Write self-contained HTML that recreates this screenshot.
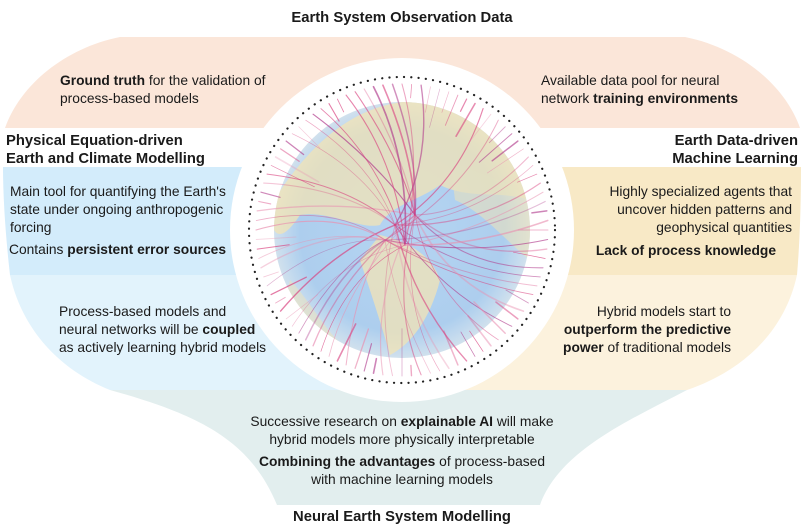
<!DOCTYPE html>
<html><head><meta charset="utf-8"><style>
html,body{margin:0;padding:0;background:#fff;}
svg{display:block;font-family:"Liberation Sans",Arial,sans-serif;}
text{font-size:13.8px;fill:#1a1a1a;}
.b{font-weight:bold;}
.h{font-weight:bold;font-size:14.8px;}
</style></head><body>
<svg width="804" height="531" viewBox="0 0 804 531" xmlns="http://www.w3.org/2000/svg">
<defs>
<radialGradient id="sea" cx="50%" cy="50%" r="50%">
<stop offset="0" stop-color="#a9cdf0"/><stop offset="0.8" stop-color="#9fc6ec"/><stop offset="1" stop-color="#c9dcea"/>
</radialGradient>
<clipPath id="gc"><circle cx="402" cy="230" r="128"/></clipPath>
</defs>
<path d="M120,37 L685,37 C740,48 785,85 800,128 L5,128 C20,85 65,48 120,37 Z" fill="#fbe6d9"/>
<path d="M3,167 L402,167 L402,275 L10,275 C6,240 3,200 3,167 Z" fill="#d3ecfb"/>
<path d="M10,275 L402,275 L402,390 L110,390 C60,370 22,330 10,275 Z" fill="#e2f3fc"/>
<path d="M402,167 L801,167 C801,200 800,240 797,275 L402,275 Z" fill="#f8e9c6"/>
<path d="M402,275 L797,275 C785,330 745,370 687,390 L402,390 Z" fill="#fcf2dd"/>
<path d="M110,390 L687,390 C630,420 560,450 540,505 L277,505 C250,440 200,415 110,390 Z" fill="#e2eeee"/>
<circle cx="402" cy="230" r="172" fill="#fff"/>
<circle cx="402" cy="230" r="153" fill="none" stroke="#222" stroke-width="2.2" stroke-dasharray="0.1 7.2" stroke-linecap="round"/>
<circle cx="402" cy="230" r="128" fill="url(#sea)"/>
<g clip-path="url(#gc)" fill="#f1dfa8" opacity="0.75">
<path d="M274,200 C300,160 340,110 402,102 C470,100 520,140 530,200 C500,190 470,200 440,185 C420,200 390,205 380,225 C360,230 330,210 300,215 C290,230 280,240 274,230 Z"/>
<path d="M380,235 C400,240 430,250 440,280 C430,320 410,345 390,355 C380,320 370,290 360,260 Z"/>
<path d="M450,160 C480,175 510,180 530,200 L530,260 C505,240 480,210 455,200 Z" opacity="0.7"/>
<path d="M290,280 C310,300 330,340 350,350 C320,355 295,330 285,300 Z" opacity="0.6"/>
</g>
<circle cx="402" cy="230" r="128" fill="#fff" opacity="0.15"/>
<g id="lines" fill="none" stroke-linecap="round"></g>
<text x="402" y="22" class="h" text-anchor="middle">Earth System Observation Data</text>
<text x="60" y="85"><tspan class="b">Ground truth</tspan> for the validation of</text>
<text x="60" y="103">process-based models</text>
<text x="541" y="85">Available data pool for neural</text>
<text x="541" y="103">network <tspan class="b">training environments</tspan></text>
<text x="6" y="145" class="h">Physical Equation-driven</text>
<text x="6" y="163" class="h">Earth and Climate Modelling</text>
<text x="798" y="145" class="h" text-anchor="end">Earth Data-driven</text>
<text x="798" y="163" class="h" text-anchor="end">Machine Learning</text>
<text x="10" y="196">Main tool for quantifying the Earth's</text>
<text x="10" y="214">state under ongoing anthropogenic</text>
<text x="10" y="232">forcing</text>
<text x="9" y="254">Contains <tspan class="b">persistent error sources</tspan></text>
<text x="59" y="316">Process-based models and</text>
<text x="59" y="334">neural networks will be <tspan class="b">coupled</tspan></text>
<text x="59" y="352">as actively learning hybrid models</text>
<text x="792" y="196" text-anchor="end">Highly specialized agents that</text>
<text x="792" y="214" text-anchor="end">uncover hidden patterns and</text>
<text x="792" y="232" text-anchor="end">geophysical quantities</text>
<text x="776" y="255" class="b" text-anchor="end">Lack of process knowledge</text>
<text x="731" y="316" text-anchor="end">Hybrid models start to</text>
<text x="731" y="334" text-anchor="end" class="b">outperform the predictive</text>
<text x="731" y="352" text-anchor="end"><tspan class="b">power</tspan> of traditional models</text>
<text x="402" y="426" text-anchor="middle">Successive research on <tspan class="b">explainable AI</tspan> will make</text>
<text x="402" y="444" text-anchor="middle">hybrid models more physically interpretable</text>
<text x="402" y="466" text-anchor="middle"><tspan class="b">Combining the advantages</tspan> of process-based</text>
<text x="402" y="484" text-anchor="middle">with machine learning models</text>
<text x="402" y="521" class="h" text-anchor="middle">Neural Earth System Modelling</text>
</svg>
<script>
(function(){
var g=document.getElementById('lines'),cx=402,cy=230,R=146,ns='http://www.w3.org/2000/svg';
var seed=7;function rnd(){seed=(seed*9301+49297)%233280;return seed/233280;}
var hubs=[[395,225],[415,215],[405,245],[385,240]];
for(var i=0;i<96;i++){
 var a=i/96*Math.PI*2, x=cx+R*Math.cos(a), y=cy+R*Math.sin(a);
 var r2=R-(10+rnd()*40), x2=cx+r2*Math.cos(a), y2=cy+r2*Math.sin(a);
 var p=document.createElementNS(ns,'path');
 var d='M'+x.toFixed(1)+','+y.toFixed(1)+' L'+x2.toFixed(1)+','+y2.toFixed(1);
 if(rnd()<0.45){var h=hubs[Math.floor(rnd()*4)];
  d='M'+x.toFixed(1)+','+y.toFixed(1)+' Q'+(cx+0.5*R*Math.cos(a+0.3)).toFixed(1)+','+(cy+0.5*R*Math.sin(a+0.3)).toFixed(1)+' '+h[0]+','+h[1];}
 p.setAttribute('d',d);
 var c=rnd()<0.5?'#d9417f':(rnd()<0.5?'#b03a8c':'#e98fb0');
 p.setAttribute('stroke',c);p.setAttribute('stroke-width',(0.6+rnd()*1.1).toFixed(2));
 p.setAttribute('opacity',(0.3+rnd()*0.45).toFixed(2));
 g.appendChild(p);}
})();
</script>
</body></html>
